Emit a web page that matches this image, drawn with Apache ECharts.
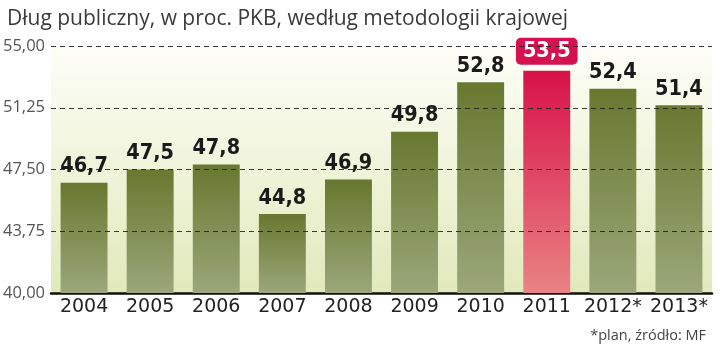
<!DOCTYPE html>
<html><head><meta charset="utf-8">
<script src="https://cdn.jsdelivr.net/npm/echarts@6/dist/echarts.min.js"></script>
<style>html,body{margin:0;padding:0;background:#fff}#c{width:720px;height:361px}</style>
</head><body><div id="c"></div>
<script>
var categories = ['2004','2005','2006','2007','2008','2009','2010','2011','2012*','2013*'];
var values = [46.7, 47.5, 47.8, 44.8, 46.9, 49.8, 52.8, 53.5, 52.4, 51.4];
var yTicks = [40, 43.75, 47.5, 51.25, 55];
var highlightIndex = 7;
var base = yTicks[0];

function fmtComma(v, d) { return v.toFixed(d).replace('.', ','); }

var olive = new echarts.graphic.LinearGradient(0,0,0,1,[{offset:0,color:'#68782f'},{offset:1,color:'#9ba77b'}]);
var red = new echarts.graphic.LinearGradient(0,0,0,1,[{offset:0,color:'#d8124a'},{offset:1,color:'#e98383'}]);

var barData = values.map(function(v, i){
  var item = { value: v - base, raw: v };
  if (i === highlightIndex) {
    item.itemStyle = { color: red };
    item.label = { color:'#fff', backgroundColor:'#d5124f', borderRadius:5, padding:[3,7,2,7], distance:6 };
  }
  return item;
});

var chart = echarts.init(document.getElementById('c'), null, {renderer:'canvas'});
chart.setOption({
  animation:false,
  title:[{
    text:'Dług publiczny, w proc. PKB, według metodologii krajowej',
    left:2, top:4,
    textStyle:{fontFamily:'Open Sans', fontWeight:'normal', fontSize:21, color:'#3a3a3a'}
  },{
    text:'*plan, źródło: MF',
    right:9, top:323,
    textStyle:{fontFamily:'Open Sans', fontWeight:'normal', fontSize:14.5, color:'#444'}
  }],
  grid:{left:48, right:8, top:46, bottom:68, show:true, borderWidth:0,
    backgroundColor: new echarts.graphic.LinearGradient(0,0,0,1,[{offset:0,color:'#fefef8'},{offset:1,color:'#e1e9bb'}])},
  xAxis:{type:'category', data:categories,
    axisLine:{lineStyle:{color:'#111', width:2.5}},
    axisTick:{show:false},
    axisLabel:{interval:0, fontFamily:'DejaVu Sans', fontSize:19, color:'#222', margin:5}
  },
  yAxis:{type:'value', min:0, max:yTicks[yTicks.length-1]-base, interval:yTicks[1]-yTicks[0],
    axisLine:{show:false}, axisTick:{show:false}, splitLine:{show:false},
    axisLabel:{fontFamily:'Open Sans', fontSize:16.5, color:'#555', margin:6,
      formatter:function(v){ return fmtComma(v + base, 2); }}
  },
  series:[{
    type:'bar', data:barData, barWidth:'71%',
    itemStyle:{color:olive},
    label:{show:true, position:'top', distance:5,
      fontFamily:'DejaVu Sans Condensed', fontWeight:'bold', fontSize:21.5, color:'#1a1a1a',
      formatter:function(p){ return fmtComma(p.data.raw, 1); }},
    markLine:{silent:true, symbol:'none',
      label:{show:false},
      lineStyle:{color:'#222', type:[5,4], width:1, opacity:0.9},
      data: yTicks.slice(1).map(function(t){ return {yAxis: t - base}; })
    },
    z:2
  }]
});
</script></body></html>
